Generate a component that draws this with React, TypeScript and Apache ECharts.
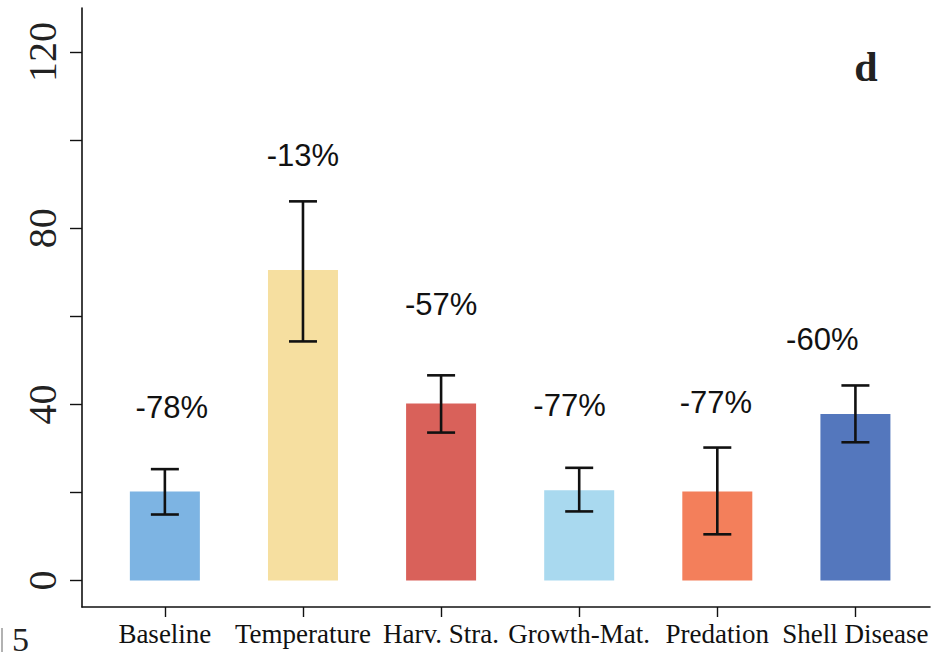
import React, { useEffect, useRef } from "react";
import * as echarts from "echarts";

const categories = ["Baseline", "Temperature", "Harv. Stra.", "Growth-Mat.", "Predation", "Shell Disease"];
const values = [20.2, 70.5, 40.2, 20.5, 20.2, 37.8];
const errLow = [15.0, 54.3, 33.6, 15.7, 10.5, 31.4];
const errHigh = [25.3, 86.1, 46.6, 25.6, 30.2, 44.3];
const changeLabels = ["-78%", "-13%", "-57%", "-77%", "-77%", "-60%"];
const labelX = [1.05, 2.0, 3.0, 3.93, 4.99, 5.76];
const labelY = [39.3, 96.4, 62.7, 39.8, 40.5, 54.8];
const colors = ["#7db4e3", "#f6dfa0", "#d9615a", "#a9d9ef", "#f37f5b", "#5477bd"];
const yTicks = [0, 20, 40, 60, 80, 100, 120];
const yLabels = [0, 40, 80, 120];

export default function App() {
  const ref = useRef<HTMLDivElement>(null);
  useEffect(() => {
    if (!ref.current) return;
    const chart = echarts.init(ref.current, null, { renderer: "svg" });
    const xs = categories.map((_, i) => i + 1);
    chart.setOption({
      animation: false,
      backgroundColor: "#ffffff",
      grid: { left: 82, right: 5, top: 8, bottom: 50, containLabel: false },
      xAxis: {
        type: "value",
        min: 0.4,
        max: 6.54,
        axisLine: { show: true, onZero: false, lineStyle: { color: "#111", width: 1.6 } },
        axisTick: { show: true, customValues: xs, length: 10, lineStyle: { color: "#111", width: 1.4 } },
        axisLabel: {
          customValues: xs,
          formatter: (v: number) => categories[Math.round(v) - 1] ?? "",
          fontFamily: "Liberation Serif",
          fontSize: 27,
          color: "#111",
          margin: 13,
        },
        splitLine: { show: false },
      },
      yAxis: {
        type: "value",
        min: -6,
        max: 130,
        axisLine: { show: true, lineStyle: { color: "#111", width: 1.6 } },
        axisTick: { show: true, customValues: yTicks, length: 12, lineStyle: { color: "#111", width: 1.4 } },
        axisLabel: {
          customValues: yLabels,
          rotate: 90,
          fontFamily: "Liberation Serif",
          fontSize: 40,
          color: "#222",
          margin: 20,
        },
        splitLine: { show: false },
      },
      series: [
        {
          type: "bar",
          barWidth: 70,
          data: values.map((v, i) => ({ value: [i + 1, v], itemStyle: { color: colors[i] } })),
        },
        {
          type: "custom",
          data: values.map((_, i) => [i + 1, errLow[i], errHigh[i]]),
          renderItem: (params: any, api: any) => {
            const x = api.value(0);
            const lo = api.coord([x, api.value(1)]);
            const hi = api.coord([x, api.value(2)]);
            const cap = 14;
            const style = { stroke: "#111", lineWidth: 2.6 };
            return {
              type: "group",
              children: [
                { type: "line", shape: { x1: lo[0], y1: lo[1], x2: hi[0], y2: hi[1] }, style },
                { type: "line", shape: { x1: lo[0] - cap, y1: lo[1], x2: lo[0] + cap, y2: lo[1] }, style },
                { type: "line", shape: { x1: hi[0] - cap, y1: hi[1], x2: hi[0] + cap, y2: hi[1] }, style },
              ],
            };
          },
          z: 5,
        },
        {
          type: "custom",
          data: changeLabels.map((_, i) => [labelX[i], labelY[i]]),
          renderItem: (params: any, api: any) => {
            const p = api.coord([api.value(0), api.value(1)]);
            return {
              type: "text",
              x: p[0],
              y: p[1],
              style: {
                text: changeLabels[params.dataIndex],
                fontFamily: "Liberation Sans",
                fontSize: 31,
                fill: "#111",
                align: "center",
                verticalAlign: "middle",
              },
            };
          },
          z: 6,
        },
      ],
      graphic: [
        {
          type: "text",
          x: 866,
          y: 67,
          style: {
            text: "d",
            fontFamily: "Liberation Serif",
            fontWeight: "bold",
            fontSize: 42,
            fill: "#222",
            align: "center",
            verticalAlign: "middle",
          },
        },
        {
          type: "text",
          x: 12,
          y: 622,
          style: {
            text: "5",
            fontFamily: "Liberation Serif",
            fontSize: 34,
            fill: "#222",
            align: "left",
            verticalAlign: "top",
          },
        },
        {
          type: "line",
          shape: { x1: 2, y1: 628, x2: 2, y2: 652 },
          style: { stroke: "#999", lineWidth: 1.5 },
        },
      ],
    });
    return () => chart.dispose();
  }, []);
  return (
    <div
      ref={ref}
      style={{ position: "fixed", left: 0, top: 0, width: 935, height: 657 }}
    />
  );
}
